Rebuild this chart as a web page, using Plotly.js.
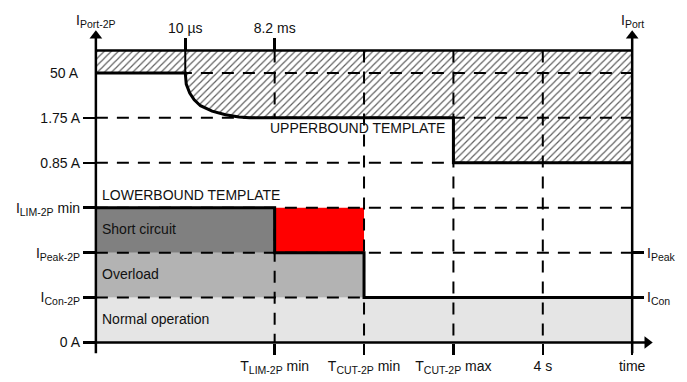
<!DOCTYPE html>
<html>
<head>
<meta charset="utf-8">
<script src="https://cdn.plot.ly/plotly-3.0.1.min.js"></script>
<style>
  html, body { margin: 0; padding: 0; background: #fff; }
  #chart { width: 687px; height: 382px; }
</style>
</head>
<body>
<div id="chart"></div>
<script>
// ---------------- DATA (schematic scale) ----------------
// current levels, bottom to top (left axis)
const levelValues = [0, 1, 2, 3, 4, 5];
const levelLabels = ['0 A', 'I<sub>Con-2P</sub>', 'I<sub>Peak-2P</sub>', 'I<sub>LIM-2P</sub> min', '0.85 A', '1.75 A'];
const topLevelValue = 6;
const topLevelLabel = '50 A';
const ceilingLevel = 6.5;
// right axis levels
const rightLevelValues = [1, 2];
const rightLevelLabels = ['I<sub>Con</sub>', 'I<sub>Peak</sub>'];
// time marks
const bottomTimeValues = [2, 3, 4, 5, 6];
const bottomTimeLabels = ['T<sub>LIM-2P</sub> min', 'T<sub>CUT-2P</sub> min', 'T<sub>CUT-2P</sub> max', '4 s', 'time'];
const topTimeValues = [1, 2];
const topTimeLabels = ['10 µs', '8.2 ms'];
const axisLeftLabel = 'I<sub>Port-2P</sub>';
const axisRightLabel = 'I<sub>Port</sub>';
// upper bound template (flat, decay curve, steps)
const upperX = [0, 1, 1.011, 1.05, 1.10, 1.17, 1.30, 1.45, 1.60, 1.72, 4, 4, 6];
const upperY = [6, 6, 5.75, 5.55, 5.40, 5.27, 5.15, 5.07, 5.02, 5.0, 5, 4, 4];
// lower bound template
const lowerX = [0, 2, 2, 3, 3, 6];
const lowerY = [3, 3, 2, 2, 1, 1];
// operating regions
const regionLabels = ['Normal operation', 'Overload', 'Short circuit', ''];
const regionX0 = [0, 0, 0, 2];
const regionX1 = [6, 3, 2, 3];
const regionY0 = [0, 1, 2, 2];
const regionY1 = [1, 2, 3, 3];
// dashed vertical guide lines
const vGuideX = [2, 2, 3, 4, 5];
const vGuideFrom = [5, 0, 0, 0, 0];
const vGuideTo = [6.5, 3, 6.5, 6.5, 6.5];
// dashed horizontal guide levels
const hGuideLevels = [1, 2, 3, 4, 5, 6];
const textUpper = 'UPPERBOUND TEMPLATE';
const textLower = 'LOWERBOUND TEMPLATE';

// ---------------- STYLE / GEOMETRY ----------------
const W = 687, H = 382;
const M = {l: 78, r: 28, t: 28, b: 26};
const xRange = [-0.2, 6.3];
const yRange = [-0.3, 7];
const unitX = (W - M.l - M.r) / (xRange[1] - xRange[0]);
const unitY = (H - M.t - M.b) / (yRange[1] - yRange[0]);
const xStart = 0, xEnd = 6;
const axisTip = {y: 6.95, x: 6.23};
const below = -0.24, leftOf = -0.14;
const arrowSize = 11, arrowR = arrowSize / 2;
const regionColors = ['#e5e5e5', '#b3b3b3', '#808080', '#ff0000'];
const FONT = 'Liberation Sans, Arial, Helvetica, sans-serif';
const DASH = '12px,9px';

// enlarge subscripts slightly (reference uses ~10.5px subscripts)
const bigSub = s => s.replace(/<sub>(.*?)<\/sub>/g, '<sub><span style="font-size:10.5px">$1</span></sub>');

const traces = [];

// hatched upper-bound area
const hx = [xStart, xEnd].concat(upperX.slice().reverse());
const hy = [ceilingLevel, ceilingLevel].concat(upperY.slice().reverse());
traces.push({
  x: hx, y: hy, type: 'scatter', mode: 'lines', fill: 'toself',
  fillcolor: '#ffffff',
  fillpattern: {shape: '/', fgcolor: '#5e5e5e', bgcolor: '#ffffff', size: 5, solidity: 0.24},
  line: {width: 0}, hoverinfo: 'skip'
});

// regions
regionLabels.forEach((name, i) => {
  traces.push({
    x: [regionX0[i], regionX1[i], regionX1[i], regionX0[i]],
    y: [regionY0[i], regionY0[i], regionY1[i], regionY1[i]],
    type: 'scatter', mode: 'lines', fill: 'toself',
    fillcolor: regionColors[i], line: {width: 0}, hoverinfo: 'skip'
  });
});

// dashed horizontal guides
const dhx = [], dhy = [];
hGuideLevels.forEach(v => { dhx.push(xStart, xEnd, null); dhy.push(v, v, null); });
traces.push({x: dhx, y: dhy, type: 'scatter', mode: 'lines',
  line: {color: '#000', width: 2, dash: DASH}, hoverinfo: 'skip'});

// dashed vertical guides
const dvx = [], dvy = [];
vGuideX.forEach((v, i) => { dvx.push(v, v, null); dvy.push(vGuideTo[i], vGuideFrom[i], null); });
traces.push({x: dvx, y: dvy, type: 'scatter', mode: 'lines',
  line: {color: '#000', width: 2, dash: DASH}, hoverinfo: 'skip'});

// solid 10 µs marker inside hatch (on top axis)
traces.push({x: [topTimeValues[0], topTimeValues[0]], y: [topLevelValue, ceilingLevel],
  xaxis: 'x2', type: 'scatter', mode: 'lines', line: {color: '#000', width: 2}, hoverinfo: 'skip'});

// ceiling line
traces.push({x: [xStart, xEnd], y: [ceilingLevel, ceilingLevel], type: 'scatter', mode: 'lines',
  line: {color: '#000', width: 2.5}, hoverinfo: 'skip'});

// upper bound line
traces.push({x: upperX, y: upperY, type: 'scatter', mode: 'lines',
  line: {color: '#000', width: 3, shape: 'linear'}, hoverinfo: 'skip'});

// lower bound line
traces.push({x: lowerX, y: lowerY, type: 'scatter', mode: 'lines',
  line: {color: '#000', width: 3}, hoverinfo: 'skip'});

// axis lines
const arrowYc = axisTip.y - arrowR / unitY;
const arrowXc = axisTip.x - arrowR / unitX;
traces.push({x: [xStart, xStart], y: [below, arrowYc], type: 'scatter', mode: 'lines',
  line: {color: '#000', width: 2.5}, hoverinfo: 'skip'});
traces.push({x: [xEnd, xEnd], y: [below, arrowYc], yaxis: 'y2', type: 'scatter', mode: 'lines',
  line: {color: '#000', width: 2.5}, hoverinfo: 'skip'});
traces.push({x: [leftOf, arrowXc], y: [0, 0], type: 'scatter', mode: 'lines',
  line: {color: '#000', width: 2.5}, hoverinfo: 'skip'});

// arrow heads
traces.push({x: [xStart, xEnd], y: [arrowYc, arrowYc], type: 'scatter', mode: 'markers',
  marker: {symbol: 'triangle-up', size: arrowSize, color: '#000', line: {width: 0}},
  cliponaxis: false, hoverinfo: 'skip'});
traces.push({x: [arrowXc], y: [0], type: 'scatter', mode: 'markers',
  marker: {symbol: 'triangle-right', size: arrowSize, color: '#000', line: {width: 0}},
  cliponaxis: false, hoverinfo: 'skip'});

const tickFont = {family: FONT, size: 14, color: '#111'};
const annFont = {family: FONT, size: 14, color: '#111'};

const annotations = [];
regionLabels.forEach((name, i) => {
  if (!name) return;
  annotations.push({x: regionX0[i], y: (regionY0[i] + regionY1[i]) / 2, xref: 'x', yref: 'y',
    text: name, showarrow: false, xanchor: 'left', yanchor: 'middle', xshift: 4, yshift: 1, font: annFont});
});
annotations.push({x: topTimeValues[1], y: 5, xref: 'x', yref: 'y', text: textUpper, showarrow: false,
  xanchor: 'left', yanchor: 'middle', xshift: -7, yshift: -10, font: annFont});
annotations.push({x: xStart, y: 3, xref: 'x', yref: 'y', text: textLower, showarrow: false,
  xanchor: 'left', yanchor: 'middle', xshift: 4, yshift: 13, font: annFont});
annotations.push({x: xStart, y: topLevelValue, xref: 'x', yref: 'y', text: topLevelLabel, showarrow: false,
  xanchor: 'right', yanchor: 'middle', xshift: -15, font: tickFont});
annotations.push({x: xStart, y: yRange[1], xref: 'x', yref: 'y', text: bigSub(axisLeftLabel), showarrow: false,
  xanchor: 'center', yanchor: 'bottom', yshift: -4, font: annFont});
annotations.push({x: xEnd, y: yRange[1], xref: 'x', yref: 'y', text: bigSub(axisRightLabel), showarrow: false,
  xanchor: 'center', yanchor: 'bottom', yshift: -4, font: annFont});

const baseAxis = {showgrid: false, zeroline: false, showline: false, fixedrange: true,
  ticks: 'outside', tickcolor: '#000', tickwidth: 2.5, tickfont: tickFont};

const layout = {
  width: W, height: H, margin: M,
  paper_bgcolor: '#fff', plot_bgcolor: '#fff', showlegend: false,
  xaxis: Object.assign({}, baseAxis, {range: xRange, anchor: 'free',
    position: (0 - yRange[0]) / (yRange[1] - yRange[0]),
    tickmode: 'array', tickvals: bottomTimeValues, ticktext: bottomTimeLabels.map(bigSub), ticklen: 11}),
  xaxis2: Object.assign({}, baseAxis, {range: xRange, overlaying: 'x', side: 'top', anchor: 'free',
    position: (ceilingLevel - yRange[0]) / (yRange[1] - yRange[0]),
    tickmode: 'array', tickvals: topTimeValues, ticktext: topTimeLabels, ticklen: 12}),
  yaxis: Object.assign({}, baseAxis, {range: yRange, anchor: 'free',
    position: (xStart - xRange[0]) / (xRange[1] - xRange[0]),
    tickmode: 'array', tickvals: levelValues, ticktext: levelLabels.map(bigSub), ticklen: 13}),
  yaxis2: Object.assign({}, baseAxis, {range: yRange, overlaying: 'y', side: 'right', anchor: 'free',
    position: (xEnd - xRange[0]) / (xRange[1] - xRange[0]),
    tickmode: 'array', tickvals: rightLevelValues, ticktext: rightLevelLabels.map(bigSub), ticklen: 11}),
  annotations: annotations
};

Plotly.newPlot('chart', traces, layout, {displayModeBar: false, staticPlot: true});
</script>
</body>
</html>
